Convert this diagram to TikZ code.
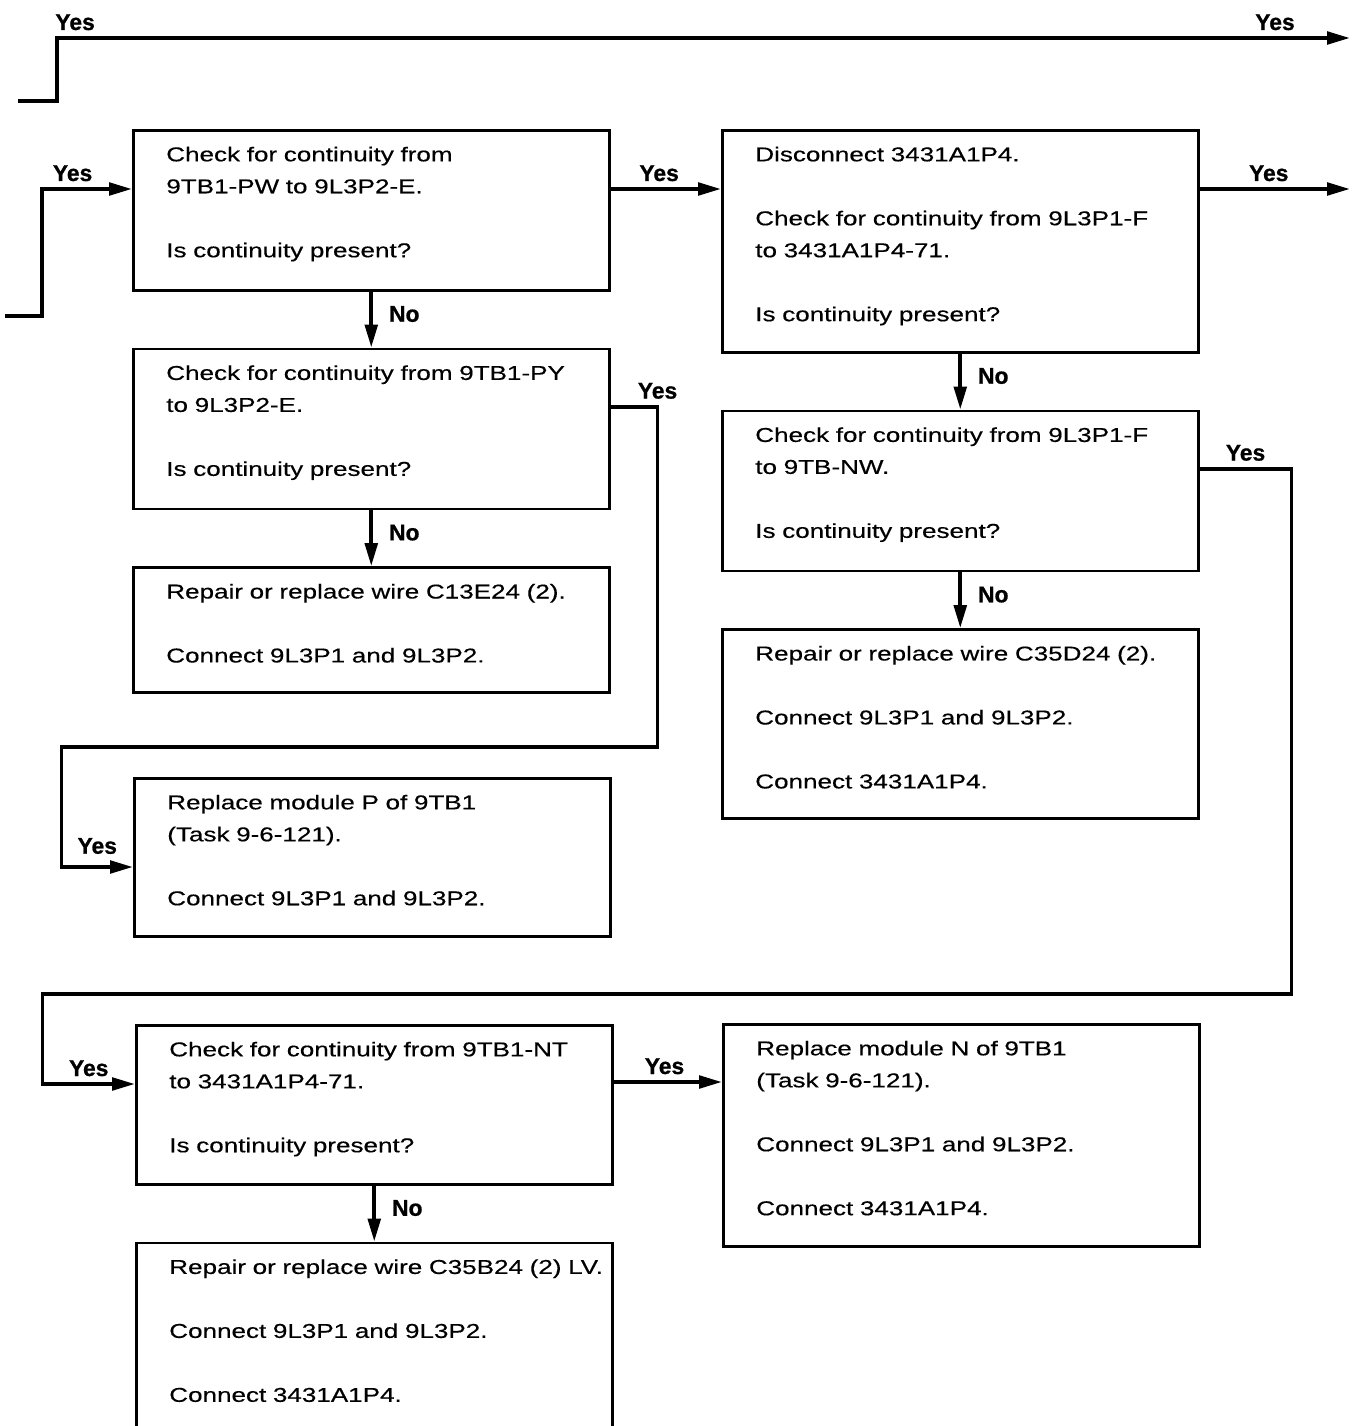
\documentclass[tikz,border=0pt]{standalone}
\usepackage{fontspec}
\setmainfont{Liberation Sans}
\newfontfamily\boxfont{Liberation Sans}[FakeStretch=1.3, FakeBold=0.4]
\newfontfamily\lblfont{Liberation Sans}[FakeBold=0.8]
\usetikzlibrary{arrows.meta,positioning,calc}
\newcommand{\blankline}{\\[18.2pt]}

\begin{document}
\begin{tikzpicture}[
    x=0.02cm, y=-0.02cm,
    node distance=1.12cm,
    box/.style={rectangle, draw, line width=1.5pt, text width=9.52cm, inner xsep=0pt, inner ysep=0pt, text height=0.62cm, align=left, font=\boxfont\fontsize{11.4}{18.2}\selectfont, execute at begin node={\leftskip=0.66cm\rightskip=-1cm plus 1fil}},
    hgt/.style={text depth={#1-0.62cm}},
    lbl/.style={font=\lblfont\bfseries\fontsize{13}{15}\selectfont},
    flow/.style={line width=2.2pt, -{Triangle[length=0.46cm, width=0.25cm]}}
]
\useasboundingbox (0,0) rectangle (1353,1426);

\node (pw) [box, hgt=3.2cm, anchor=north west] at (132,129) {Check for continuity from\\9TB1-PW to 9L3P2-E.\blankline Is continuity present?};
\node (py) [box, hgt=3.2cm, below=of pw] {Check for continuity from 9TB1-PY\\to 9L3P2-E.\blankline Is continuity present?};
\node (wire1) [box, hgt=2.5cm, below=of py] {Repair or replace wire C13E24 (2).\blankline Connect 9L3P1 and 9L3P2.};
\node (modp) [box, hgt=3.16cm, anchor=north west] at (133,777) {Replace module P of 9TB1\\(Task 9-6-121).\blankline Connect 9L3P1 and 9L3P2.};
\node (disc) [box, hgt=4.44cm, anchor=north west] at (721,129) {Disconnect 3431A1P4.\blankline Check for continuity from 9L3P1-F\\to 3431A1P4-71.\blankline Is continuity present?};
\node (nw) [box, hgt=3.2cm, below=of disc] {Check for continuity from 9L3P1-F\\to 9TB-NW.\blankline Is continuity present?};
\node (wire2) [box, hgt=3.78cm, below=of nw] {Repair or replace wire C35D24 (2).\blankline Connect 9L3P1 and 9L3P2.\blankline Connect 3431A1P4.};
\node (nt) [box, hgt=3.18cm, anchor=north west] at (135,1024) {Check for continuity from 9TB1-NT\\to 3431A1P4-71.\blankline Is continuity present?};
\node (modn) [box, hgt=4.44cm, anchor=north west] at (722,1023) {Replace module N of 9TB1\\(Task 9-6-121).\blankline Connect 9L3P1 and 9L3P2.\blankline Connect 3431A1P4.};
\node (wire3) [box, hgt=4.2cm, below=of nt] {Repair or replace wire C35B24 (2) LV.\blankline Connect 9L3P1 and 9L3P2.\blankline Connect 3431A1P4.};

% free ends
\coordinate (topin) at (18,101);
\coordinate (topout) at (1350,38);
\coordinate (pwin) at (5,316);
\coordinate (discout) at (1350,189);

\draw[flow] (topin) -- ++(39,0) -- ++(0,-63) -- node[lbl, above, pos=0.014] (yes1) {Yes} node[lbl, above, pos=0.942] (yes2) {Yes} (topout);
\draw[flow] (pwin) -- ++(37,0) |- node[lbl, above, pos=0.67] (yes3) {Yes} ($(pw.north west)+(0,60)$);
\draw[flow] ($(pw.north east)+(0,60)$) -- node[lbl, above, pos=0.44] (yes4) {Yes} ($(disc.north west)+(0,60)$);
\draw[flow] ($(disc.north east)+(0,60)$) -- node[lbl, above, pos=0.46] (yes5) {Yes} (discout);

\draw[flow] (pw) -- node[lbl, right=0.2cm, pos=0.4] (no1) {No} (py);
\draw[flow] (py) -- node[lbl, right=0.2cm, pos=0.4] (no2) {No} (wire1);
\draw[flow] (disc) -- node[lbl, right=0.2cm, pos=0.4] (no3) {No} (nw);
\draw[flow] (nw) -- node[lbl, right=0.2cm, pos=0.4] (no4) {No} (wire2);
\draw[flow] (nt) -- node[lbl, right=0.2cm, pos=0.4] (no5) {No} (wire3);

\draw[flow] ($(py.north east)+(0,59)$) -- ++(47,0) node[lbl, above] (yes6) {Yes} -- ++(0,340) -- ++(-596,0) |- node[lbl, above=3pt, pos=0.75] (yes7) {Yes} ($(modp.north west)+(0,90)$);
\draw[flow] ($(nw.north east)+(0,59)$) -- node[lbl, above] (yes8) {Yes} ++(92,0) -- ++(0,525) -- ++(-1249,0) |- node[lbl, above, pos=0.75] (yes9) {Yes} ($(nt.north west)+(0,60)$);
\draw[flow] ($(nt.north east)+(0,58)$) -- node[lbl, above, pos=0.47] (yes10) {Yes} ($(modn.north west)+(0,59)$);

\end{tikzpicture}
\end{document}
